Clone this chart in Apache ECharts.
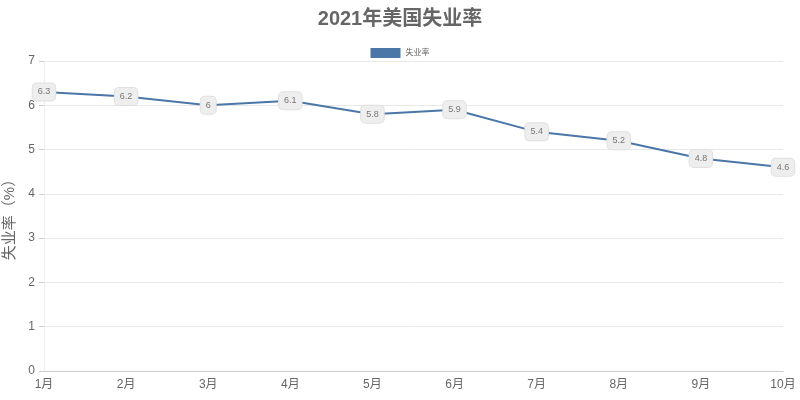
<!DOCTYPE html>
<html>
<head>
    <meta charset="utf-8"/>
    <title>2021年美国失业率</title>
    <script src="https://cdn.jsdelivr.net/npm/echarts@6/dist/echarts.min.js"></script>
    <style>
        html, body { margin: 0; padding: 0; background: #fff; }
        #main { width: 800px; height: 400px; }
    </style>
</head>
<body>
<div id="main"></div>
<script>
    // 数据
    var months = ['1月', '2月', '3月', '4月', '5月', '6月', '7月', '8月', '9月', '10月'];
    var rates = [6.3, 6.2, 6.0, 6.1, 5.8, 5.9, 5.4, 5.2, 4.8, 4.6];

    var chart = echarts.init(document.getElementById('main'));
    var option = {
        animation: false,
        textStyle: { fontFamily: 'Liberation Sans, Noto Sans CJK SC, sans-serif' },
        title: {
            text: '2021年美国失业率',
            left: 'center',
            top: 4,
            textStyle: {
                color: '#666',
                fontSize: 20,
                fontWeight: 'bold'
            }
        },
        legend: {
            top: 43,
            left: 'center',
            itemWidth: 30,
            itemHeight: 10,
            itemGap: 4,
            icon: 'rect',
            textStyle: { color: '#666', fontSize: 8 },
            data: ['失业率']
        },
        grid: {
            left: 44,
            right: 17,
            top: 61,
            bottom: 29,
            outerBoundsMode: 'none',
            containLabel: false
        },
        xAxis: {
            type: 'category',
            boundaryGap: false,
            data: months,
            axisLine: { lineStyle: { color: '#ccc' } },
            axisTick: { show: false },
            axisLabel: { color: '#666', fontSize: 12, margin: 8 },
            splitLine: { show: false }
        },
        yAxis: {
            type: 'value',
            min: 0,
            max: 7,
            interval: 1,
            name: '失业率（%）',
            nameLocation: 'middle',
            nameGap: 23,
            nameTextStyle: { color: '#666', fontSize: 15 },
            axisLine: { show: true, lineStyle: { color: '#eee' } },
            axisTick: { show: true, length: 5, lineStyle: { color: '#ccc' } },
            axisLabel: { color: '#666', fontSize: 12, margin: 9 },
            splitLine: { lineStyle: { color: '#e8e8e8' } }
        },
        series: [{
            name: '失业率',
            type: 'line',
            data: rates,
            color: '#4a76a8',
            symbol: 'circle',
            symbolSize: 1,
            showSymbol: true,
            lineStyle: { width: 2, color: '#4a76a8' },
            label: {
                show: true,
                position: 'inside',
                color: '#777',
                fontSize: 9,
                backgroundColor: '#eeeeee',
                borderColor: '#e0e0e0',
                borderWidth: 1,
                borderRadius: 4,
                padding: [4, 5]
            }
        }]
    };
    chart.setOption(option);
</script>
</body>
</html>
